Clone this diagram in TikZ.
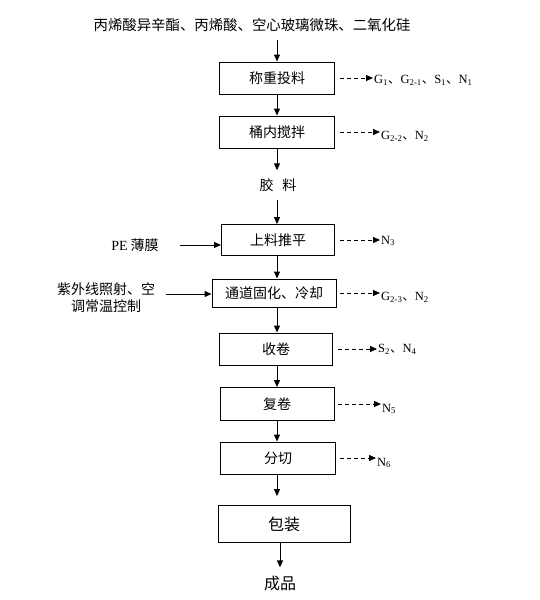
\documentclass[tikz,border=0pt]{standalone}
\usepackage{fontspec}
\setmainfont{Liberation Serif}
\newfontfamily\cjk{Noto Sans CJK SC}
\usetikzlibrary{arrows.meta}
\newcommand{\dun}{{\cjk 、}}

\begin{document}
\begin{tikzpicture}[x=1pt,y=-1pt,>={Triangle[length=7pt,width=6pt]},
    box/.style={draw, line width=0.9pt, minimum width=115pt, minimum height=32pt, inner sep=0pt, font=\cjk\fontsize{14}{16}\selectfont},
    txt/.style={inner sep=8pt, font=\cjk\fontsize{14}{17}\selectfont},
    lbl/.style={anchor=west, inner sep=1pt, font=\fontsize{12.5}{14}\selectfont},
    flow/.style={->, line width=1pt},
    emit/.style={->, line width=1pt, dash pattern=on 4pt off 3pt}]
    \useasboundingbox (0,0) rectangle (540,600);

    \node[txt, font=\cjk\fontsize{14.4}{17}\selectfont] (raw) at (252,25) {丙烯酸异辛酯、丙烯酸、空心玻璃微珠、二氧化硅};

    \node[box] (1) at (277,78) {称重投料};
    \node[box] (2) at (277,132) {桶内搅拌};
    \node[txt] (glue) at (278,185) {胶\hspace{9pt}料};
    \node[box, minimum width=113pt, minimum height=31pt] (3) at (278,240) {上料推平};
    \node[box, minimum width=124pt, minimum height=28pt] (4) at (274,293) {通道固化、冷却};
    \node[box, minimum width=113pt] (5) at (276,349) {收卷};
    \node[box, minimum width=114pt, minimum height=33pt] (6) at (277,404) {复卷};
    \node[box] (7) at (278,458) {分切};
    \node[box, minimum width=132pt, minimum height=37pt, font=\cjk\fontsize{16}{18}\selectfont] (8) at (284,524) {包装};
    \node[txt, font=\cjk\fontsize{16}{18}\selectfont] (prod) at (280,583) {成品};

    % inputs on the left
    \node[txt, inner sep=2pt] (pe) at (135,245) {{\normalfont PE} 薄膜};
    \node[txt, inner sep=2pt, align=center] (uv) at (106,298) {紫外线照射、空\\调常温控制};

    % main flow
    \draw[flow] (raw.south -| 1) -- (1);
    \draw[flow] (1) -- (2);
    \draw[flow] (2) -- (glue.north -| 2);
    \draw[flow] (glue.south -| 2) -- (3.north -| 2);
    \draw[flow] (3.south -| 2) -- (4.north -| 2);
    \draw[flow] (4.south -| 2) -- (5.north -| 2);
    \draw[flow] (5.south -| 2) -- (6.north -| 2);
    \draw[flow] (6) -- (7.north -| 6);
    \draw[flow, shorten >=9pt] (7.south -| 2) -- (8.north -| 2);
    \draw[flow] (8.south -| prod) -- (prod);

    \draw[flow, shorten <=19pt] (pe) -- (pe -| 3.west);
    \draw[flow, shorten <=9pt] ([yshift=4pt]uv.east) -- ([yshift=4pt]uv.east -| 4.west);

    % emissions
    \node[lbl] (o1) at (373,80) {G\textsubscript{1}\dun G\textsubscript{2-1}\dun S\textsubscript{1}\dun N\textsubscript{1}};
    \node[lbl] (o2) at (380,136) {G\textsubscript{2-2}\dun N\textsubscript{2}};
    \node[lbl] (o3) at (380,241) {N\textsubscript{3}};
    \node[lbl] (o4) at (380,297) {G\textsubscript{2-3}\dun N\textsubscript{2}};
    \node[lbl] (o5) at (377,349) {S\textsubscript{2}\dun N\textsubscript{4}};
    \node[lbl] (o6) at (381,409) {N\textsubscript{5}};
    \node[lbl] (o7) at (376,463) {N\textsubscript{6}};

    \draw[emit] ([xshift=5pt]1.east) -- (1.east -| o1.west);
    \draw[emit] ([xshift=5pt]2.east) -- (2.east -| o2.west);
    \draw[emit] ([xshift=5pt]3.east) -- (3.east -| o3.west);
    \draw[emit] ([xshift=4pt]4.east) -- (4.east -| o4.west);
    \draw[emit] ([xshift=5pt]5.east) -- (5.east -| o5.west);
    \draw[emit] ([xshift=4pt]6.east) -- (6.east -| o6.west);
    \draw[emit] ([xshift=4pt]7.east) -- (7.east -| o7.west);
\end{tikzpicture}
\end{document}
